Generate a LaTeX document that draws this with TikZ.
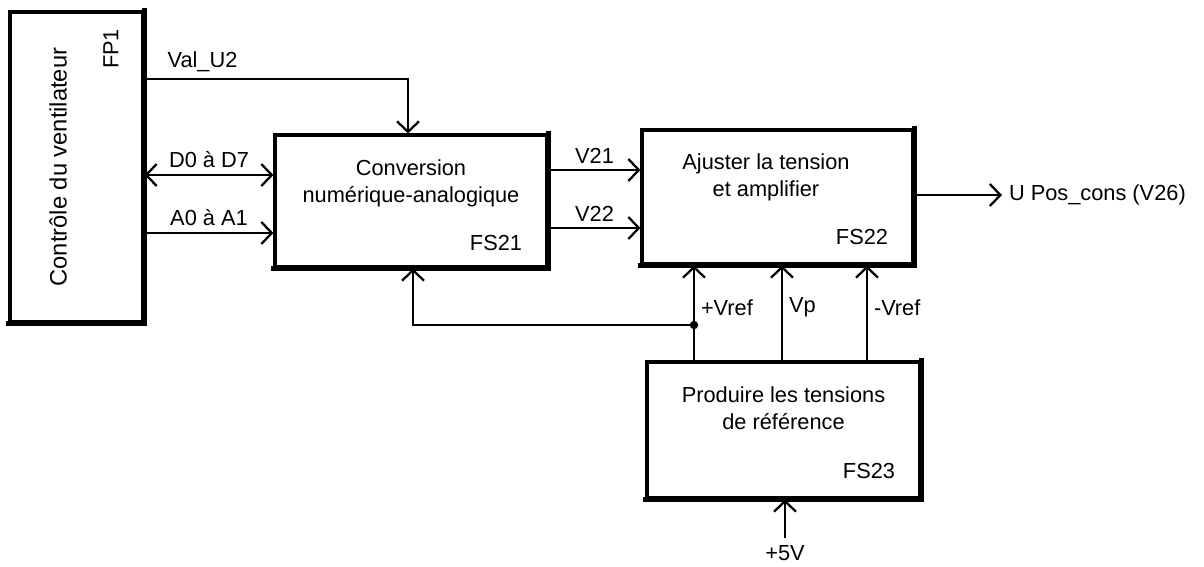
\documentclass[tikz,border=0pt]{standalone}
\usepackage{fontspec}
\setmainfont{Liberation Sans}
\usetikzlibrary{arrows.meta, positioning, calc}
\tikzset{
  every picture/.style={font=\fontsize{12.4}{15.5}\selectfont, line width=1.3pt},
  block/.style={draw, line width=1.8pt, inner sep=0pt},
  heavy/.style={line width=3pt, line cap=rect},
  arr/.style={-{Straight Barb[length=6pt, width=12.5pt]}},
  dblarr/.style={{Straight Barb[length=6pt, width=12.5pt]}-{Straight Barb[length=6pt, width=12.5pt]}},
  tag/.style={inner sep=0pt},
}

\begin{document}
\begin{tikzpicture}[x=0.02cm, y=-0.02cm]
  \useasboundingbox (0,0) rectangle (1204,566);
  % blocks
  \node[block, minimum width=2.66cm, minimum height=6.2cm] (fp) at (76.5,167) {};
  \node[block, minimum width=5.44cm, minimum height=2.64cm] (cna) at (411,201) {};
  \node[block, minimum width=5.42cm, minimum height=2.68cm] (amp) at (777.5,197) {};
  \node[block, minimum width=5.46cm, minimum height=2.72cm] (ref) at (783.5,430) {};
  \foreach \b in {fp, cna, amp, ref}
    \draw[heavy] (\b.north east) -- (\b.south east) -- (\b.south west);
  % texts in the blocks
  \node[rotate=90, font=\fontsize{13.5}{16}\selectfont] (fptxt) at (58,167) {Contrôle du ventilateur};
  \node[rotate=90, tag] (fptag) at (111,49) {FP1};
  \node[align=center] (cnatxt) at (411,183) {Conversion\\numérique-analogique};
  \node[tag] (cnatag) at (496,243) {FS21};
  \node[align=center] (amptxt) at (766,177) {Ajuster la tension\\et amplifier};
  \node[tag] (amptag) at (862,237) {FS22};
  \node[align=center] (reftxt) at (783.5,408) {Produire les tensions\\de référence};
  \node[tag] (reftag) at (869,471) {FS23};
  % bus levels
  \coordinate (valu) at (408,79);
  \coordinate (d0) at (209,175);
  \coordinate (a0) at (209,233);
  \coordinate (v21) at (594,170);
  \coordinate (v22) at (594,228);
  \coordinate (vrp) at (694,325);
  \coordinate (vp) at (782,325);
  \coordinate (vrm) at (867,325);
  \coordinate (fb) at (413,325);
  % fan control to DAC
  \draw[arr] (fp.east |- valu) -- node[pos=0.22, above] {Val\_U2} (valu) -- (cna.north -| valu);
  \draw[dblarr] (fp.east |- d0) -- node[above] {D0 à D7} (cna.west |- d0);
  \draw[arr] (fp.east |- a0) -- node[above] {A0 à A1} (cna.west |- a0);
  % DAC to amplifier
  \draw[arr] (cna.east |- v21) -- node[above] {V21} (amp.west |- v21);
  \draw[arr] (cna.east |- v22) -- node[above] {V22} (amp.west |- v22);
  % output
  \node[anchor=west] (out) at (1002,195) {U Pos\_cons (V26)};
  \draw[arr] (amp.east |- out) -- (out.west);
  % reference voltages
  \draw[arr] (ref.north -| vrp) -- node[pos=0.56, right] {+Vref} (amp.south -| vrp);
  \draw[arr] (ref.north -| vp) -- node[pos=0.56, right] {Vp} (amp.south -| vp);
  \draw[arr] (ref.north -| vrm) -- node[pos=0.56, right] {-Vref} (amp.south -| vrm);
  \fill (vrp) circle (2.4pt);
  \draw[arr] (vrp) -- (fb) -- (cna.south -| fb);
  % supply
  \node (p5) at (785,553) {+5V};
  \draw[arr] (p5.north) -- (ref.south -| p5);
\end{tikzpicture}
\end{document}
